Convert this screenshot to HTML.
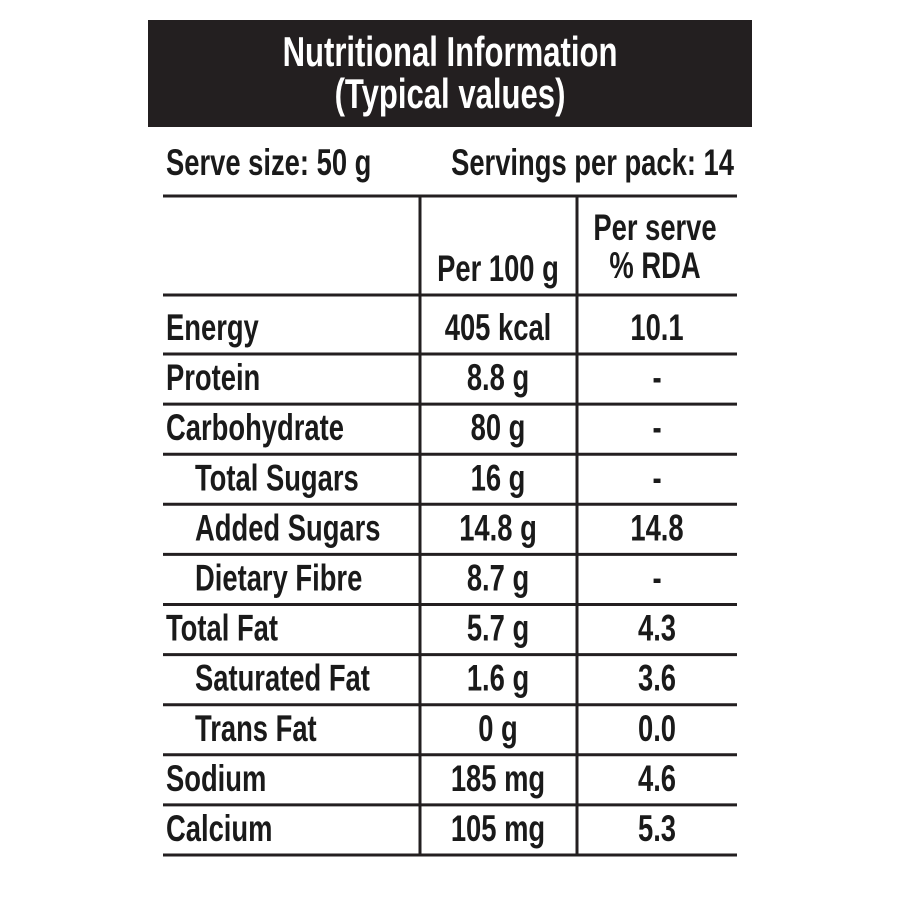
<!DOCTYPE html>
<html><head><meta charset="utf-8"><style>
html,body{margin:0;padding:0;background:#fff;}
svg{display:block;}
text{font-family:"Liberation Sans Narrow","Liberation Sans",sans-serif;fill:#1a1a1a;}
</style></head><body>
<svg id="chart" width="900" height="900" viewBox="0 0 900 900">
<rect x="148" y="20" width="604" height="107" fill="#231f20"/>
<g id="content"></g>
</svg>
<script>
const labels=["Energy","Protein","Carbohydrate","Total Sugars","Added Sugars","Dietary Fibre","Total Fat","Saturated Fat","Trans Fat","Sodium","Calcium"];
const indents=[0,0,0,1,1,1,0,1,1,0,0];
const per100=["405 kcal","8.8 g","80 g","16 g","14.8 g","8.7 g","5.7 g","1.6 g","0 g","185 mg","105 mg"];
const rda=["10.1","-","-","-","14.8","-","4.3","3.6","0.0","4.6","5.3"];
const NS="http://www.w3.org/2000/svg";
const g=document.getElementById('content');
const SX=0.74;
function txt(s,x,y,size,anchor,color,name){
  const grp=document.createElementNS(NS,'g');
  grp.setAttribute('transform','translate('+x+','+y+') scale('+SX+',1)');
  const t=document.createElementNS(NS,'text');
  t.setAttribute('font-size',size);
  t.setAttribute('text-anchor',anchor);
  t.setAttribute('font-weight','bold');
  if(color)t.setAttribute('style','fill:'+color);
  t.textContent=s;
  
  
  grp.appendChild(t);g.appendChild(grp);
}
function line(x1,y1,x2,y2,name){
  const l=document.createElementNS(NS,'line');
  l.setAttribute('x1',x1);l.setAttribute('y1',y1);l.setAttribute('x2',x2);l.setAttribute('y2',y2);
  l.setAttribute('stroke','#231f20');l.setAttribute('stroke-width','3');
  
  
  g.appendChild(l);
}
txt("Nutritional Information",450,66,42,'middle','#fff','title-line-1');
txt("(Typical values)",450,108,42,'middle','#fff','title-line-2');
txt("Serve size: 50 g",166,175,37,'start',null,'serve-size');
txt("Servings per pack: 14",734,175,37,'end',null,'servings-per-pack');
const L=163,R=737,C1=420,C2=577,TOP=196,HB=295,BOT=855;
line(L,TOP,R,TOP,'table-top-border');
line(C1,TOP,C1,BOT,'column-divider-1');
line(C2,TOP,C2,BOT,'column-divider-2');
txt("Per 100 g",498,281,37,'middle',null,'header-per-100g');
txt("Per serve",655,240,37,'middle',null,'header-per-serve');
txt("% RDA",655,278,37,'middle',null,'header-rda');
line(L,HB,R,HB,'header-bottom-border');
const first=354,rowH=(BOT-first)/(labels.length-1);
for(let i=0;i<labels.length;i++){
  const bottom= i===0?first:first+rowH*i;
  const base=bottom-14;
  txt(labels[i],indents[i]?195:166,base,37,'start',null,'row-label');
  txt(per100[i],498,base,37,'middle',null,'per-100g-value');
  txt(rda[i],657,base,37,'middle',null,'rda-value');
  line(L,bottom,R,bottom,'row-border');
}
</script>
</body></html>
